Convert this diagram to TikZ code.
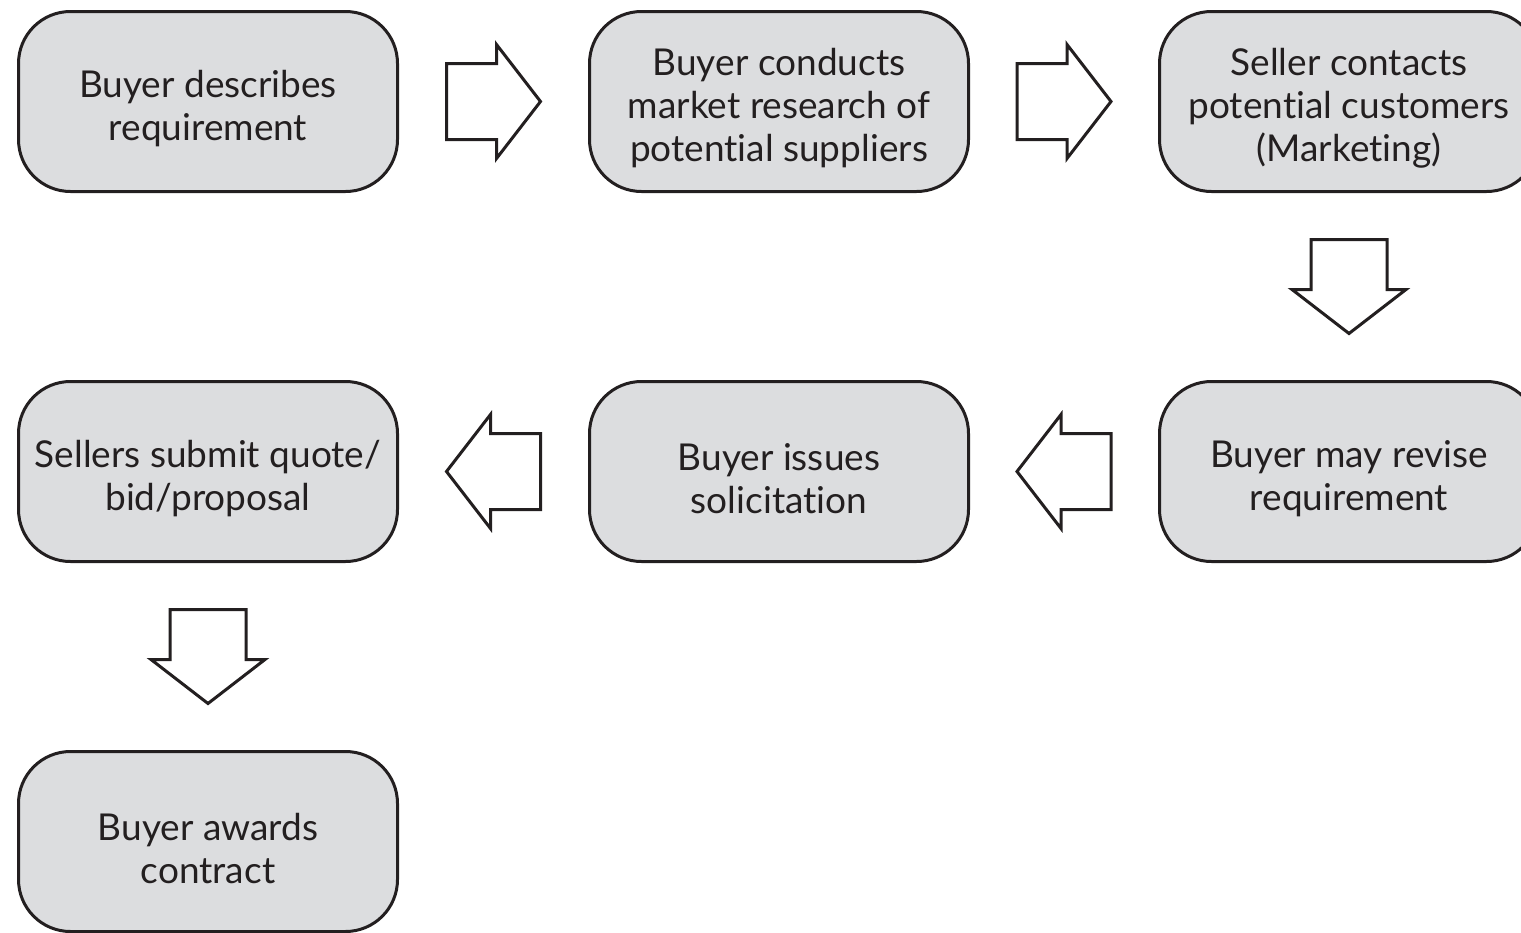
\documentclass[tikz,border=0pt]{standalone}
\usepackage{fontspec}
\setmainfont[Ligatures=NoCommon]{Lato}
\usetikzlibrary{calc}
\definecolor{boxfill}{RGB}{220,221,223}
\definecolor{inkdark}{RGB}{35,31,32}
\tikzset{
  x=1pt, y=-1pt,
  stepbox/.style={draw=inkdark, line width=3pt, fill=boxfill, rounded corners=52pt,
    minimum width=379pt, minimum height=180pt, inner sep=0pt},
  steptext/.style={align=center, text=inkdark, inner sep=0pt,
    font=\fontsize{37}{43}\selectfont},
  blockarrow/.pic={
    \draw[draw=inkdark, line width=3pt, fill=white, line join=miter]
      (-47,-38) -- (3,-38) -- (3,-57) -- (47,0) -- (3,57) -- (3,38) -- (-47,38) -- cycle;
  }
}
\begin{document}
\begin{tikzpicture}
\useasboundingbox (0,0) rectangle (1521,932);
\clip (0,0) rectangle (1521,932);
% first row
\node[stepbox] (describe) at (208,101.5) {};
\node[stepbox] (research) at (779,101.5) {};
\node[stepbox] (contacts) at (1349,101.5) {};
% second row
\node[stepbox] (submit) at (208,471.5) {};
\node[stepbox] (issue) at (779,471.5) {};
\node[stepbox] (revise) at (1349,471.5) {};
% last step
\node[stepbox] (award) at (208,841.5) {};
% captions, set slightly below each box centre
\node[steptext] (describe-t) at ($(describe.center)+(0,7)$) {Buyer describes\\requirement};
\node[steptext] (research-t) at ($(research.center)+(0,7)$) {Buyer conducts\\market research of\\potential suppliers};
\node[steptext] (contacts-t) at ($(contacts.center)+(0,7)$) {Seller contacts\\potential customers\\(Marketing)};
\node[steptext] (submit-t) at ($(submit.center)+(0,7)$) {Sellers submit quote/\\bid/proposal};
\node[steptext] (issue-t) at ($(issue.center)+(0,7)$) {Buyer issues\\solicitation};
\node[steptext] (revise-t) at ($(revise.center)+(0,7)$) {Buyer may revise\\requirement};
\node[steptext] (award-t) at ($(award.center)+(0,7)$) {Buyer awards\\contract};
% flow arrows
\pic at ($(describe.east)!0.5!(research.west)$) {blockarrow};
\pic at ($(research.east)!0.5!(contacts.west)$) {blockarrow};
\pic[rotate=-90] at ($(contacts.south)!0.5!(revise.north)$) {blockarrow};
\pic[rotate=180] at ($(revise.west)!0.5!(issue.east)$) {blockarrow};
\pic[rotate=180] at ($(issue.west)!0.5!(submit.east)$) {blockarrow};
\pic[rotate=-90] at ($(submit.south)!0.5!(award.north)$) {blockarrow};
\end{tikzpicture}
\end{document}
